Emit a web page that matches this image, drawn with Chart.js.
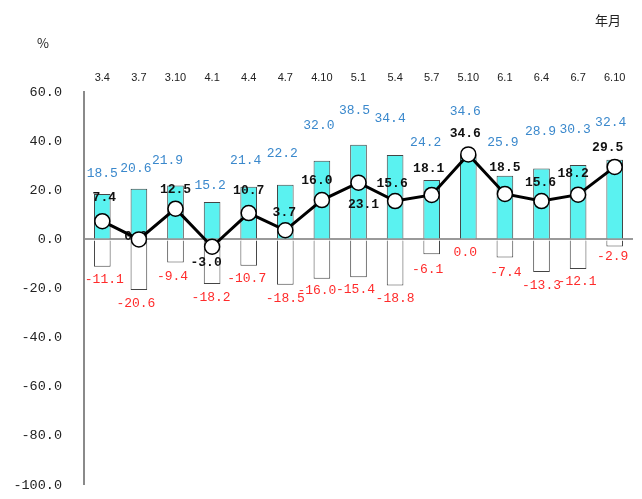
<!DOCTYPE html>
<html>
<head>
<meta charset="utf-8">
<script src="https://cdn.jsdelivr.net/npm/chart.js@4.4.1/dist/chart.umd.min.js"></script>
<style>
  html, body { margin: 0; padding: 0; background: #ffffff; overflow: hidden; }
  canvas { display: block; }
</style>
</head>
<body>
<canvas id="chart" width="642" height="499"></canvas>
<script>
// 年月 (年.月)
const periods = ['3.4', '3.7', '3.10', '4.1', '4.4', '4.7', '4.10', '5.1', '5.4', '5.7', '5.10', '6.1', '6.4', '6.7', '6.10'];
// 増加した割合
const risingShare = [18.5, 20.6, 21.9, 15.2, 21.4, 22.2, 32.0, 38.5, 34.4, 24.2, 34.6, 25.9, 28.9, 30.3, 32.4];
// 減少した割合
const fallingShare = [-11.1, -20.6, -9.4, -18.2, -10.7, -18.5, -16.0, -15.4, -18.8, -6.1, 0.0, -7.4, -13.3, -12.1, -2.9];
// 差 (DI)
const diffIndex = [7.4, 0.0, 12.5, -3.0, 10.7, 3.7, 16.0, 23.1, 15.6, 18.1, 34.6, 18.5, 15.6, 18.2, 29.5];
// 目盛
const yTicks = [60, 40, 20, 0, -20, -40, -60, -80, -100];

// label nudges in pixels, so the value labels clear each other
const risingLabelDx = [0, -3, -8, -2, -3, -3, -3, -4, -5, -6, -3, -2, -1, -3, -4];
const risingLabelDy = [-20, -20, -25, -16, -26, -31, -35, -34, -36, -37, -43, -33, -37, -35, -37];
const fallingLabelDx = [2, -3, -3, -1, -2, 0, -5, -3, 0, -4, -3, 1, 0, -1, -2];
const fallingLabelDy = [13, 14, 14, 13, 13, 14, 12, 12, 13, 15, 13, 15, 14, 12, 10];
const diffLabelDx = [2, -3, 0, -6, 0, -1, -5, 5, -3, -3, -3, 0, -1, -5, -7];
const diffLabelDy = [-23, -3, -19, 16, -22, -18, -19, 22, -17, -26, -21, -26, -18, -21, -19];

const LABEL_FONT = '"Liberation Mono", "DejaVu Sans Mono", monospace';

// value labels: drawn once the bars are down, before the line and its markers
const valueLabels = {
  id: 'valueLabels',
  afterDatasetDraw(chart, args) {
    if (args.index !== 1) return;
    const ctx = chart.ctx;
    const y = chart.scales.y;
    const x = chart.scales.x;
    ctx.save();
    ctx.textAlign = 'center';
    ctx.textBaseline = 'middle';
    ctx.font = '13px ' + LABEL_FONT;
    ctx.fillStyle = '#3a88cc';
    risingShare.forEach((v, i) => {
      ctx.fillText(v.toFixed(1), x.getPixelForValue(i) + risingLabelDx[i], y.getPixelForValue(v) + risingLabelDy[i]);
    });
    ctx.fillStyle = '#ff2b2b';
    fallingShare.forEach((v, i) => {
      ctx.fillText(v.toFixed(1), x.getPixelForValue(i) + fallingLabelDx[i], y.getPixelForValue(v) + fallingLabelDy[i]);
    });
    ctx.font = 'bold 13px ' + LABEL_FONT;
    ctx.fillStyle = '#111111';
    diffIndex.forEach((v, i) => {
      ctx.fillText(v.toFixed(1), x.getPixelForValue(i) + diffLabelDx[i], y.getPixelForValue(v) + diffLabelDy[i]);
    });
    ctx.restore();
  },
  afterDraw(chart) {
    const ctx = chart.ctx;
    const a = chart.chartArea;
    ctx.save();
    ctx.fillStyle = '#222222';
    ctx.textAlign = 'center';
    ctx.textBaseline = 'middle';
    ctx.font = '13px "Noto Sans CJK JP", sans-serif';
    ctx.fillText('%', a.left - 41, a.top - 49);
    ctx.fillText('年月', a.right - 25, a.top - 72);
    ctx.restore();
  }
};

new Chart(document.getElementById('chart'), {
  data: {
    labels: periods,
    datasets: [
      {
        type: 'line',
        label: 'DI',
        data: diffIndex,
        order: 0,
        borderColor: '#000000',
        borderWidth: 3,
        pointRadius: 7.5,
        pointHoverRadius: 7.5,
        pointBackgroundColor: '#ffffff',
        pointBorderColor: '#000000',
        pointBorderWidth: 1.5,
        tension: 0
      },
      {
        type: 'bar',
        label: '増加',
        data: risingShare,
        order: 1,
        grouped: false,
        backgroundColor: '#5af2f0',
        borderColor: '#444444',
        borderWidth: 1,
        barPercentage: 0.455,
        categoryPercentage: 1
      },
      {
        type: 'bar',
        label: '減少',
        data: fallingShare,
        order: 2,
        grouped: false,
        backgroundColor: '#ffffff',
        borderColor: '#444444',
        borderWidth: 1,
        barPercentage: 0.455,
        categoryPercentage: 1
      }
    ]
  },
  options: {
    responsive: false,
    animation: false,
    layout: { padding: { left: 0, top: 0, right: 7, bottom: 14 } },
    plugins: {
      legend: { display: false },
      tooltip: { enabled: false }
    },
    scales: {
      x: {
        position: 'top',
        grid: { display: false, drawTicks: false },
        border: { display: false },
        ticks: {
          color: '#222222',
          font: { family: '"Liberation Sans", Arial, sans-serif', size: 11 },
          padding: 7,
          maxRotation: 0,
          autoSkip: false
        },
        afterFit(scale) { scale.height = 92; }
      },
      y: {
        min: -100,
        max: 60,
        afterBuildTicks(scale) { scale.ticks = yTicks.map(v => ({ value: v })); },
        grid: {
          drawTicks: false,
          color: (c) => (c.tick && c.tick.value === 0 ? '#9a9a9a' : 'rgba(0,0,0,0)'),
          lineWidth: (c) => (c.tick && c.tick.value === 0 ? 2 : 0)
        },
        border: { display: true, color: '#8a8a8a', width: 2 },
        ticks: {
          color: '#222222',
          font: { family: LABEL_FONT, size: 13.5 },
          padding: 22,
          callback: (v) => Number(v).toFixed(1)
        },
        afterFit(scale) {
          scale.width = 84;
          // only half a label is needed above and below the axis ends
          scale.paddingTop = 7;
          scale.paddingBottom = 7;
        }
      }
    }
  },
  plugins: [valueLabels]
});
</script>
</body>
</html>
